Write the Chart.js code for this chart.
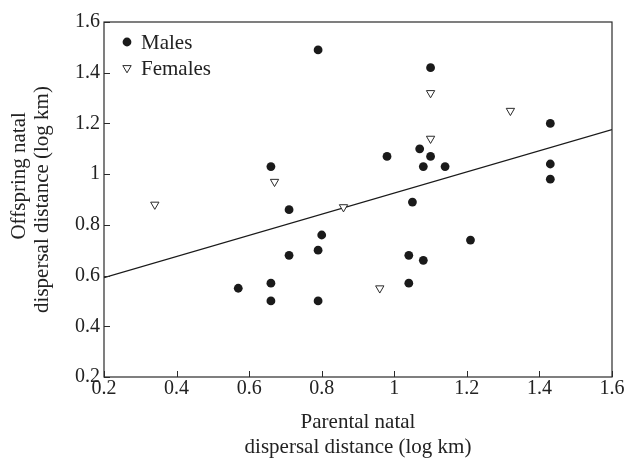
<!DOCTYPE html>
<html>

<head>
    <title>Natal dispersal</title>
    <meta http-equiv="Content-type" content="text/html; charset=utf-8">
    <script src="https://cdn.jsdelivr.net/npm/chart.js@4.4.1/dist/chart.umd.min.js"></script>
    <style>
        body { margin: 0; background: #fff; }
        #wrap { width: 630px; height: 465px; }
    </style>
</head>

<body>
    <div id="wrap">
        <canvas id="dispersal-scatter" width="630" height="465"></canvas>
    </div>

    <script>
        // -------------------- DATA --------------------
        var maleX = [0.79, 0.66, 0.71, 1.10, 1.43, 1.07, 0.98, 1.10, 1.08, 1.14, 1.43, 1.43, 1.05,
                     0.80, 0.79, 0.71, 0.66, 0.57, 0.66, 0.79, 1.21, 1.04, 1.08, 1.04];
        var maleY = [1.49, 1.03, 0.86, 1.42, 1.20, 1.10, 1.07, 1.07, 1.03, 1.03, 1.04, 0.98, 0.89,
                     0.76, 0.70, 0.68, 0.57, 0.55, 0.50, 0.50, 0.74, 0.68, 0.66, 0.57];

        var femaleX = [0.34, 0.67, 0.86, 1.10, 1.32, 1.10, 0.96];
        var femaleY = [0.88, 0.97, 0.87, 1.32, 1.25, 1.14, 0.55];

        // fitted line end points
        var fitX = [0.2, 1.6];
        var fitY = [0.592, 1.176];

        var axisMin = 0.2;
        var axisMax = 1.6;
        var tickStep = 0.2;

        var seriesNames = ["Males", "Females"];
        var xTitle = ["Parental natal", "dispersal distance (log km)"];
        var yTitle = ["         Offspring natal", "dispersal distance (log km)"];

        function pairs(xs, ys) {
            var out = [];
            for (var i = 0; i < xs.length; i++) {
                out.push({ x: xs[i], y: ys[i] });
            }
            return out;
        }

        function fmt(v) {
            return String(Number(v.toFixed(1)));
        }

        var serif = "'Liberation Serif', 'Times New Roman', serif";

        // frame + inward ticks + legend inside plot
        var framePlugin = {
            id: 'frame',
            afterDraw: function(chart) {
                var ctx = chart.ctx;
                var a = chart.chartArea;
                ctx.save();
                ctx.strokeStyle = '#2a2a2a';
                ctx.lineWidth = 1.2;
                ctx.strokeRect(a.left, a.top, a.right - a.left, a.bottom - a.top);

                ctx.lineWidth = 1;
                var xs = chart.scales.x;
                xs.ticks.forEach(function(t) {
                    var px = Math.round(xs.getPixelForValue(t.value)) + 0.5;
                    ctx.beginPath();
                    ctx.moveTo(px, a.bottom);
                    ctx.lineTo(px, a.bottom - 6);
                    ctx.stroke();
                });
                var ys = chart.scales.y;
                ys.ticks.forEach(function(t) {
                    var py = Math.round(ys.getPixelForValue(t.value)) + 0.5;
                    ctx.beginPath();
                    ctx.moveTo(a.left, py);
                    ctx.lineTo(a.left + 6, py);
                    ctx.stroke();
                });

                // legend
                var lx = a.left + 23;
                var ly = a.top + 20;
                ctx.fillStyle = '#1a1a1a';
                ctx.beginPath();
                ctx.arc(lx, ly, 4.4, 0, Math.PI * 2);
                ctx.fill();

                var ty = ly + 26;
                ctx.strokeStyle = '#2a2a2a';
                ctx.beginPath();
                ctx.moveTo(lx - 4.2, ty - 2.4);
                ctx.lineTo(lx + 4.2, ty - 2.4);
                ctx.lineTo(lx, ty + 4.8);
                ctx.closePath();
                ctx.stroke();

                ctx.fillStyle = '#222';
                ctx.font = "21px " + serif;
                ctx.textBaseline = 'middle';
                ctx.textAlign = 'left';
                ctx.fillText(seriesNames[0], lx + 14, ly + 1);
                ctx.fillText(seriesNames[1], lx + 14, ty + 1);
                ctx.restore();
            }
        };

        new Chart(document.getElementById("dispersal-scatter"), {
            type: 'scatter',
            data: {
                datasets: [{
                    label: seriesNames[0],
                    data: pairs(maleX, maleY),
                    pointStyle: 'circle',
                    pointRadius: 4.4,
                    pointBorderWidth: 0,
                    backgroundColor: '#1a1a1a',
                    borderColor: '#1a1a1a'
                }, {
                    label: seriesNames[1],
                    data: pairs(femaleX, femaleY),
                    pointStyle: 'triangle',
                    rotation: 180,
                    pointRadius: 4.8,
                    pointBorderWidth: 1,
                    backgroundColor: '#fff',
                    borderColor: '#2a2a2a'
                }, {
                    type: 'line',
                    label: 'fit',
                    data: pairs(fitX, fitY),
                    showLine: true,
                    pointRadius: 0,
                    borderColor: '#1a1a1a',
                    borderWidth: 1.3,
                    fill: false
                }]
            },
            options: {
                responsive: false,
                animation: false,
                layout: { padding: { top: 22, right: 18, left: 0, bottom: 0 } },
                plugins: {
                    legend: { display: false },
                    tooltip: { enabled: false }
                },
                scales: {
                    x: {
                        type: 'linear',
                        min: axisMin,
                        max: axisMax,
                        grid: { display: false, drawTicks: false },
                        border: { display: false },
                        ticks: {
                            stepSize: tickStep,
                            padding: 0,
                            color: '#222',
                            font: { family: serif, size: 20 },
                            callback: function(v) { return fmt(v); }
                        },
                        title: {
                            display: true,
                            text: xTitle,
                            color: '#222',
                            font: { family: serif, size: 21, lineHeight: 1.2 },
                            padding: { top: 0, bottom: 5 }
                        },
                        afterFit: function(s) { s.height = 88; }
                    },
                    y: {
                        type: 'linear',
                        min: axisMin,
                        max: axisMax,
                        grid: { display: false, drawTicks: false },
                        border: { display: false },
                        ticks: {
                            stepSize: tickStep,
                            padding: 4,
                            color: '#222',
                            font: { family: serif, size: 20 },
                            callback: function(v) { return fmt(v); }
                        },
                        title: {
                            display: true,
                            text: yTitle,
                            color: '#222',
                            font: { family: serif, size: 21, lineHeight: 1.1 },
                            padding: { top: 8, bottom: 0 }
                        },
                        afterFit: function(s) { s.width = 104; }
                    }
                }
            },
            plugins: [framePlugin]
        });
    </script>

</body>

</html>
